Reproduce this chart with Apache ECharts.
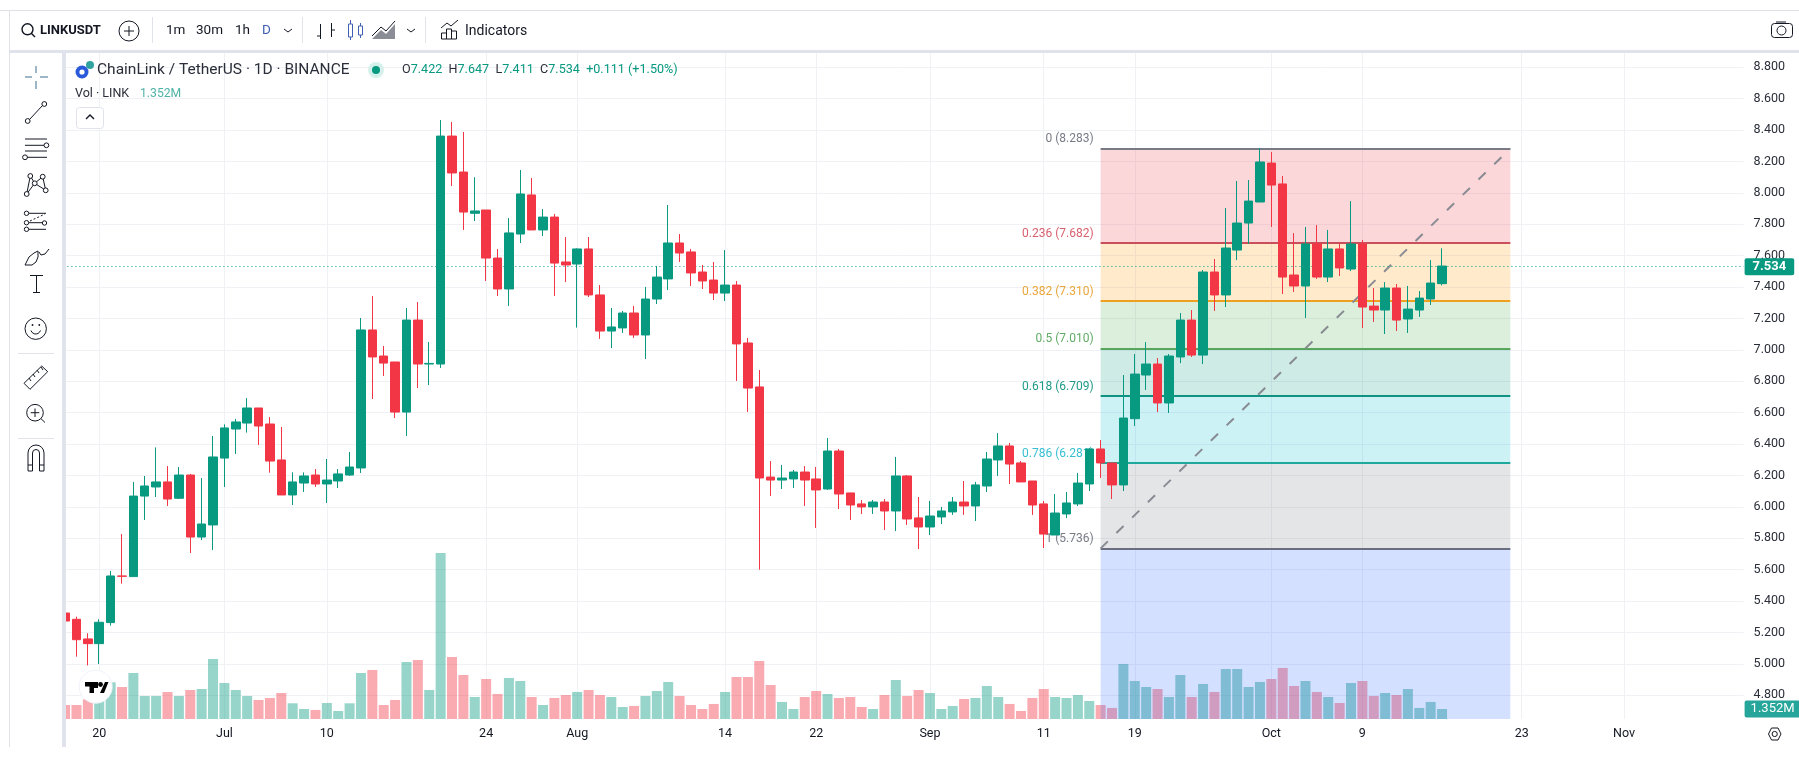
<!DOCTYPE html>
<html><head><meta charset="utf-8">
<style>html,body{margin:0;padding:0;background:#fff;overflow:hidden}#c{width:1799px;height:763px}</style>
<script src="https://cdn.jsdelivr.net/npm/echarts@6/dist/echarts.min.js"></script>
</head><body><div id="c"></div>
<script>
const categories = [
'06-17','06-18','06-19','06-20','06-21','06-22','06-23','06-24','06-25','06-26','06-27','06-28','06-29','06-30',
'07-01','07-02','07-03','07-04','07-05','07-06','07-07','07-08','07-09','07-10','07-11','07-12','07-13','07-14','07-15','07-16','07-17','07-18','07-19','07-20','07-21','07-22','07-23','07-24','07-25','07-26','07-27','07-28','07-29','07-30','07-31',
'08-01','08-02','08-03','08-04','08-05','08-06','08-07','08-08','08-09','08-10','08-11','08-12','08-13','08-14','08-15','08-16','08-17','08-18','08-19','08-20','08-21','08-22','08-23','08-24','08-25','08-26','08-27','08-28','08-29','08-30','08-31',
'09-01','09-02','09-03','09-04','09-05','09-06','09-07','09-08','09-09','09-10','09-11','09-12','09-13','09-14','09-15','09-16','09-17','09-18','09-19','09-20','09-21','09-22','09-23','09-24','09-25','09-26','09-27','09-28','09-29','09-30',
'10-01','10-02','10-03','10-04','10-05','10-06','10-07','10-08','10-09','10-10','10-11','10-12','10-13','10-14','10-15','10-16','10-17','10-18','10-19','10-20','10-21','10-22','10-23','10-24','10-25','10-26','10-27','10-28','10-29','10-30','10-31',
'11-01','11-02','11-03','11-04','11-05','11-06','11-07','11-08','11-09','11-10','11-11'];
const tickDates = ['06-20','07-01','07-10','07-24','08-01','08-14','08-22','09-01','09-11','09-19','10-01','10-09','10-23','11-01'];
const tickLabels = ['20','Jul','10','24','Aug','14','22','Sep','11','19','Oct','9','23','Nov'];
const priceTicks = [4.8,5.0,5.2,5.4,5.6,5.8,6.0,6.2,6.4,6.6,6.8,7.0,7.2,7.4,7.6,7.8,8.0,8.2,8.4,8.6,8.8];

const opens = [5.324,5.284,5.159,5.129,5.263,5.56,5.556,6.069,6.127,6.159,6.055,6.203,5.808,5.885,
6.311,6.496,6.534,6.63,6.528,6.299,6.076,6.152,6.203,6.146,6.165,6.203,6.248,7.127,6.961,6.923,6.604,7.19,6.91,6.91,8.362,8.133,7.87,7.891,7.585,7.388,7.738,7.987,7.764,7.846,7.56,
7.547,7.643,7.35,7.12,7.14,7.235,7.095,7.324,7.452,7.681,7.624,7.496,7.445,7.362,7.413,7.044,6.764,6.19,6.171,6.178,6.222,6.178,6.114,6.356,6.089,6.019,6.0,6.031,5.974,6.197,5.93,
5.872,5.936,5.968,6.031,6.006,6.133,6.299,6.388,6.28,6.165,6.019,5.821,5.955,6.019,6.146,6.369,6.28,6.14,6.562,6.84,6.91,6.662,6.955,7.19,6.967,7.496,7.35,7.636,7.808,7.942,
8.19,8.057,7.477,7.407,7.675,7.464,7.643,7.515,7.675,7.279,7.254,7.394,7.197,7.254,7.324,7.422];
const closes = [5.273,5.154,5.129,5.265,5.56,5.558,6.069,6.133,6.159,6.05,6.203,5.808,5.891,6.318,
6.503,6.541,6.63,6.515,6.292,6.076,6.159,6.197,6.146,6.171,6.21,6.254,7.127,6.955,6.916,6.604,7.19,6.91,6.914,8.362,8.127,7.878,7.885,7.585,7.388,7.745,7.993,7.764,7.846,7.553,7.541,
7.643,7.35,7.12,7.146,7.235,7.095,7.324,7.464,7.681,7.617,7.49,7.439,7.362,7.413,7.038,6.757,6.184,6.171,6.184,6.222,6.171,6.108,6.356,6.082,6.012,6.0,6.031,5.974,6.197,5.923,5.872,
5.942,5.974,6.031,6.006,6.14,6.305,6.388,6.273,6.159,6.012,5.827,5.961,6.025,6.152,6.369,6.28,6.14,6.566,6.846,6.91,6.662,6.961,7.19,6.967,7.496,7.35,7.649,7.808,7.948,8.197,
8.05,7.464,7.407,7.675,7.464,7.643,7.522,7.675,7.273,7.254,7.394,7.19,7.26,7.33,7.426,7.534];
const lows = [5.25,5.046,4.99,4.999,5.244,5.511,5.556,5.917,6.063,6.006,6.05,5.706,5.789,5.725,
6.127,6.337,6.473,6.394,6.218,6.076,6.012,6.095,6.127,6.025,6.12,6.197,6.216,6.687,6.834,6.566,6.452,6.757,6.776,6.885,8.044,7.764,7.821,7.439,7.343,7.28,7.681,7.764,7.725,7.343,7.432,
7.142,7.337,7.07,7.012,7.108,7.076,6.942,7.292,7.381,7.56,7.407,7.388,7.318,7.311,6.802,6.605,5.6,6.069,6.114,6.12,6.006,5.866,6.108,5.987,5.917,5.955,5.955,5.853,5.846,5.885,5.732,
5.821,5.891,5.949,5.949,5.91,6.095,6.197,6.146,6.159,5.949,5.738,5.821,5.929,6.006,6.101,6.184,6.05,6.101,6.515,6.745,6.604,6.598,6.916,6.955,6.91,7.248,7.273,7.572,7.675,7.942,
7.783,7.356,7.369,7.203,7.452,7.432,7.471,7.502,7.139,7.178,7.101,7.12,7.108,7.21,7.286,7.411];
const highs = [5.34,5.301,5.195,5.284,5.592,5.827,6.159,6.197,6.379,6.26,6.254,6.21,6.184,6.452,
6.526,6.56,6.693,6.63,6.572,6.509,6.22,6.22,6.241,6.305,6.241,6.35,7.203,7.343,7.025,6.923,7.267,7.305,7.05,8.464,8.452,8.388,8.1,7.891,7.643,7.84,8.146,8.095,7.897,7.866,7.719,
7.647,7.719,7.413,7.267,7.248,7.28,7.401,7.534,7.923,7.738,7.643,7.541,7.56,7.636,7.439,7.076,6.872,6.292,6.267,6.235,6.26,6.254,6.439,6.369,6.089,6.044,6.044,6.05,6.318,6.203,6.063,
6.038,6.0,6.063,6.165,6.159,6.35,6.47,6.407,6.292,6.165,6.038,6.082,6.095,6.216,6.375,6.426,6.28,6.84,6.974,7.05,6.948,6.974,7.235,7.254,7.509,7.579,7.904,8.076,8.082,8.286,
8.26,8.108,7.744,7.783,7.795,7.764,7.681,7.948,7.7,7.394,7.432,7.42,7.407,7.375,7.572,7.647];
const volumes = [1.89,1.89,2.66,3.02,4.95,4.32,6.21,3.11,3.11,3.65,3.11,3.92,4.05,8.10,
4.86,3.92,3.11,2.57,2.84,3.51,2.12,1.35,1.22,2.16,1.08,2.12,6.21,6.62,1.89,2.57,7.70,7.97,3.92,22.41,8.37,5.94,2.97,5.40,3.38,5.54,5.13,2.97,1.89,2.84,3.24,
3.65,3.92,3.24,2.97,1.62,1.76,3.11,3.78,5.00,3.11,1.89,1.35,2.03,3.65,5.67,5.67,7.83,4.59,2.30,1.35,2.97,3.78,3.38,2.84,2.97,1.62,1.35,3.24,5.27,3.11,3.92,
3.51,1.35,1.76,2.70,2.84,4.46,2.97,2.03,1.08,2.84,4.05,2.97,2.84,3.24,2.43,1.89,1.49,7.43,5.13,4.32,4.05,2.97,5.94,2.97,4.73,3.65,6.75,6.75,4.32,5.00,
5.40,6.89,4.46,5.13,3.65,2.97,2.16,4.86,5.13,3.11,3.51,3.24,4.05,1.49,2.30,1.352];

const fibStart = '09-16', fibEnd = '10-22';
const fibLevels = ['0','0.236','0.382','0.5','0.618','0.786','1'];
const fibPrices = [8.283,7.682,7.310,7.010,6.709,6.281,5.736];
const fibLabelColors = ['#787b86','#d8606e','#eaa63c','#62ab66','#1f9a86','#36bfd2','#787b86'];
const fibLineColors = ['#787b86','#c94f5b','#f0a021','#58a55c','#0f9281','#20a89c','#6a6e80'];
const fibFills = ['rgba(242,54,69,.2)','rgba(255,152,0,.2)','rgba(76,175,80,.2)','rgba(8,153,129,.2)','rgba(0,188,212,.2)','rgba(120,123,134,.2)','rgba(41,98,255,.2)'];
const lastPrice = 7.534, lastVolumeLabel = '1.352M', yBottom = 4.649, yTop = 8.9102;

const UP = '#089981', DOWN = '#f23645', INK = '#131722';
const candleData = categories.slice(0, opens.length).map((_, i) => [opens[i], closes[i], lows[i], highs[i]]);
const fibAreas = fibFills.map((c, i) => [
  {coord: [fibStart, fibPrices[i]], itemStyle: {color: c}},
  {coord: [fibEnd, i < fibPrices.length - 1 ? fibPrices[i + 1] : yBottom]}
]);
const fibLines = fibPrices.map((p, i) => {
  const label = {show: true, position: 'start', distance: 7, verticalAlign: 'bottom', padding: [0, 0, 3, 0], color: fibLabelColors[i],
    fontFamily: 'Roboto', fontSize: 12, formatter: fibLevels[i] + ' (' + p.toFixed(3) + ')'};
  const ls = {color: fibLineColors[i], width: 2, type: 'solid', opacity: 1};
  return [{coord: [fibStart, p], label, lineStyle: ls}, {coord: [fibEnd, p]}];
});
const trend = [{coord: [fibStart, fibPrices[6]], lineStyle: {color: '#888b92', width: 2, type: [10, 12]}, label: {show: false}}, {coord: [fibEnd, fibPrices[0]]}];
const priceLine = [{yAxis: lastPrice, lineStyle: {color: UP, width: 1, type: [1, 3]},
  label: {show: true, position: 'end', distance: 1, formatter: lastPrice.toFixed(3), color: '#fff', fontFamily: 'Roboto', fontWeight: 'bold', fontSize: 13,
    backgroundColor: UP, padding: [2, 8, 2, 8], borderRadius: 2}}];

/* page chrome, drawn on top of the plot edges */
const gfx = [];
const Z = 1000, S = INK;
const add = (o) => { o.z = Z; o.silent = true; gfx.push(o); };
const R = (x, y, w, h, fill, stroke, r) => add({type: 'rect', shape: {x, y, width: w, height: h, r: r || 0}, style: {fill: fill || 'none', stroke: stroke || 'none', lineWidth: 1}});
const L = (x1, y1, x2, y2, c, w, d) => add({type: 'line', shape: {x1, y1, x2, y2}, style: {stroke: c || S, lineWidth: w || 1, lineDash: d}});
const C = (cx, cy, r, fill, stroke, w) => add({type: 'circle', shape: {cx, cy, r}, style: {fill: fill || 'none', stroke: stroke || (fill ? 'none' : S), lineWidth: w || 1}});
const PL = (pts, c, w) => add({type: 'polyline', shape: {points: pts}, style: {stroke: c || S, lineWidth: w || 1, fill: 'none'}});
const PG = (pts, fill, stroke) => add({type: 'polygon', shape: {points: pts}, style: {fill: fill || 'none', stroke: stroke || 'none', lineWidth: 1}});
const T = (x, y, text, o) => add({type: 'text', x, y, style: Object.assign({text, fill: INK, font: '13px Roboto', textVerticalAlign: 'middle', verticalAlign: 'middle'}, o || {})});

R(0, 0, 1799, 50, '#fff');
R(0, 0, 62, 763, '#fff');
R(0, 747, 1799, 16, '#fff');
R(10, 50, 1789, 3, '#e0e3eb');
R(62, 50, 4, 697, '#e0e3eb');
L(0, 10.5, 1799, 10.5, '#dfe1e6');
L(9.5, 10, 9.5, 747, '#dfe1e6');

// header
C(27.5, 29.3, 5.5, null, S, 1.4); L(31.5, 33.5, 35, 37, S, 1.4);
T(40, 31, 'LINKUSDT', {font: 'bold 13px Roboto'});
C(129, 31, 10); L(124, 31, 134, 31); L(129, 26, 129, 36);
L(152.5, 17, 152.5, 43, '#e0e3eb');
T(166, 31, '1m', {font: '13.5px Roboto'});
T(196, 31, '30m', {font: '13.5px Roboto'});
T(235, 31, '1h', {font: '13.5px Roboto'});
T(262, 31, 'D', {font: '13.5px Roboto', fill: '#3f5fb5'});
PL([[284, 29], [288, 32], [292, 29]]);
L(302.5, 17, 302.5, 43, '#e0e3eb');
L(320.5, 24, 320.5, 39); L(317, 36, 320.5, 36); L(331.5, 23, 331.5, 37); L(331.5, 30, 335, 30);
L(350.5, 20, 350.5, 40, '#3f5fb5'); R(348.5, 24, 4, 13, '#fff', '#3f5fb5'); L(360.5, 23, 360.5, 38, '#3f5fb5'); R(358.5, 26, 4, 9, '#fff', '#3f5fb5');
PG([[372, 39], [381, 30], [386, 34], [395, 24], [395, 39]], '#8a8d96'); PL([[372, 36], [381, 27], [386, 31], [395, 21]]);
PL([[407, 29], [411, 32], [415, 29]]);
L(425.5, 17, 425.5, 43, '#e0e3eb');
R(441.5, 33, 5, 6, null, S); R(446.5, 29, 5, 10, null, S); R(451.5, 31, 5, 8, null, S); PL([[441, 28], [447, 23], [451, 26], [458, 20]]);
T(465, 31, 'Indicators', {font: '14px Roboto'});
R(1771.5, 23.5, 21, 14, null, S, 3); L(1776, 22, 1786, 22); C(1781.5, 30.5, 4.5);

// legend
C(90, 65, 4, '#2fa3a0'); C(82, 72, 6.5, '#2a5ada'); C(82, 72, 2.6, '#fff');
T(97, 70, 'ChainLink / TetherUS · 1D · BINANCE', {font: '15.5px Roboto', fill: '#2a2e39'});
C(376, 70, 8, '#d6f0ec'); C(376, 70, 4, UP);
add({type: 'text', x: 402, y: 70, style: {font: '12.6px Roboto', verticalAlign: 'middle',
  text: '{k|O}{v|7.422}  {k|H}{v|7.647}  {k|L}{v|7.411}  {k|C}{v|7.534}  {v|+0.111 (+1.50%)}',
  rich: {k: {fill: '#2a2e39', font: '12.6px Roboto'}, v: {fill: UP, font: '12.6px Roboto'}}}});
T(75, 94, 'Vol · LINK', {font: '12.5px Roboto', fill: '#2a2e39'});
T(140, 94, '1.352M', {font: '12.2px Roboto', fill: '#4fb3a6'});
R(76.5, 107.5, 27, 21, '#fff', '#e0e3eb', 3); PL([[86, 119], [90, 115], [94, 119]], S, 1.4);

// TradingView badge
C(95.7, 686.7, 16.5, '#fff', '#f0f3fa');
PG([[85, 682], [98, 682], [98, 688], [94, 688], [94, 693], [89.5, 693], [89.5, 686.5], [85, 686.5]], '#000');
C(100.5, 684.5, 2.4, '#000');
PG([[100, 693], [105, 682], [108.5, 682], [104, 693]], '#000');

// settings hexagon
PG([[1768.5, 734], [1771.5, 728], [1778, 728], [1781, 734], [1778, 740], [1771.5, 740]], null, S); C(1774.7, 734, 2.6);

// drawing toolbar
const b = '#3d6f8e';
L(25, 77, 32, 77, b); L(40, 77, 48, 77, b); L(36, 66, 36, 73, b); L(36, 81, 36, 89, b);
L(29.5, 119.5, 42.5, 105.5); C(27.7, 121, 2.4); C(44.3, 104, 2.4);
L(25, 139, 47, 139); L(25, 145.3, 44, 145.3); L(25, 151, 47, 151); L(27, 157.3, 47, 157.3); C(46.4, 145.3, 2.4); C(25, 157.3, 2.4);
const pn = [[30.3, 176], [42.7, 176.7], [34.7, 183.3], [26.7, 194], [45.7, 190.3]];
PL([pn[3], pn[0], pn[2], pn[1], pn[4], pn[2], pn[3]]); pn.forEach(p => C(p[0], p[1], 2.4, '#fff', S));
L(29, 213.3, 46, 213.3); L(29, 222.7, 42, 222.7); L(29, 229.3, 46, 229.3); L(30, 221, 45, 214, S, 1, [2, 2]);
C(26.5, 213.3, 2.2); C(26.5, 222.7, 2.2); C(26.5, 229.3, 2.2); C(44.5, 223, 2.2);
PL([[25, 265], [29, 257], [34, 253], [38, 251], [38, 257], [36, 262], [32, 265], [25, 265]]);
PL([[39, 252], [41, 255], [45, 254], [49, 249]]);
L(30, 275.5, 43, 275.5); L(36.5, 275.5, 36.5, 292.5); L(33, 292.5, 40, 292.5);
C(35.7, 328.7, 10.7); C(32.5, 325, .9, S); C(39.3, 325, .9, S);
add({type: 'arc', shape: {cx: 35.7, cy: 329, r: 5, startAngle: 0.3, endAngle: Math.PI - 0.3}, style: {stroke: S, lineWidth: 1, fill: 'none'}});
L(18, 353.5, 54, 353.5, '#e0e3eb');
PG([[24, 383.3], [41.7, 366], [47.7, 371.7], [30, 389.3]], null, S);
L(29, 378, 31, 381); L(33, 374, 35, 377); L(37, 370, 39, 373); L(41, 367, 43, 370);
C(35, 412.7, 8.3); L(35, 408.5, 35, 417); L(30.7, 412.7, 39.3, 412.7); L(41, 418.7, 45, 422.5);
L(18, 438.5, 54, 438.5, '#e0e3eb');
add({type: 'arc', shape: {cx: 36, cy: 453, r: 8, startAngle: Math.PI, endAngle: 0}, style: {stroke: S, lineWidth: 1, fill: 'none'}});
add({type: 'arc', shape: {cx: 36, cy: 453, r: 3.5, startAngle: Math.PI, endAngle: 0}, style: {stroke: S, lineWidth: 1, fill: 'none'}});
PL([[28, 453], [28, 471], [32.5, 471], [32.5, 453]]); PL([[39.5, 453], [39.5, 471], [44, 471], [44, 453]]);
L(28, 465, 32.5, 465); L(39.5, 465, 44, 465);

const chart = echarts.init(document.getElementById('c'), null, {renderer: 'canvas', width: 1799, height: 763});
chart.setOption({
  animation: false,
  backgroundColor: '#fff',
  textStyle: {fontFamily: 'Roboto'},
  grid: [
    {left: 59.4, top: 50, width: 1684.2, height: 669},
    {left: 59.4, top: 496.8, width: 1684.2, height: 222.2}
  ],
  xAxis: [
    {type: 'category', gridIndex: 0, data: categories, boundaryGap: true,
      axisLine: {show: false}, axisTick: {show: false},
      axisLabel: {color: INK, fontFamily: 'Roboto', fontSize: 12.5, margin: 8,
        interval: (i, v) => tickDates.includes(v),
        formatter: v => tickLabels[tickDates.indexOf(v)] || ''},
      splitLine: {show: true, alignWithLabel: true, interval: (i, v) => tickDates.includes(v), lineStyle: {color: '#eff1f5', width: 1}}},
    {type: 'category', gridIndex: 1, data: categories, show: false}
  ],
  yAxis: [
    {type: 'value', gridIndex: 0, position: 'right', min: yBottom, max: yTop, scale: true,
      axisLine: {show: false},
      axisTick: {show: false, customValues: priceTicks},
      axisLabel: {color: '#2a2e39', fontFamily: 'Roboto', fontSize: 12.5, margin: 10, customValues: priceTicks, formatter: v => v.toFixed(3)},
      splitLine: {show: true, lineStyle: {color: '#eff1f5', width: 1}}},
    {type: 'value', gridIndex: 1, position: 'right', min: 0, max: 30, show: false}
  ],
  series: [
    {type: 'bar', name: 'Vol', xAxisIndex: 1, yAxisIndex: 1, z: 0, barWidth: 10, data: volumes,
      itemStyle: {color: p => closes[p.dataIndex] >= opens[p.dataIndex] ? 'rgba(8,153,129,.42)' : 'rgba(242,54,69,.42)'},
      markLine: {silent: true, symbol: 'none', z: 6, animation: false,
        data: [{yAxis: volumes[volumes.length - 1], lineStyle: {color: 'rgba(0,0,0,0)', width: 0},
          label: {show: true, position: 'end', distance: 1, formatter: lastVolumeLabel, color: '#fff', fontFamily: 'Roboto', fontSize: 13,
            backgroundColor: '#26a69a', padding: [2, 6, 2, 6], borderRadius: 2}}]}},
    {type: 'line', name: 'Fib', xAxisIndex: 0, yAxisIndex: 0, data: [], z: 1, symbol: 'none',
      markArea: {silent: true, z: 1, animation: false, data: fibAreas},
      markLine: {silent: true, symbol: 'none', z: 5, animation: false, data: fibLines.concat([trend]).concat(priceLine)}},
    {type: 'candlestick', name: 'LINKUSDT', xAxisIndex: 0, yAxisIndex: 0, z: 10, barWidth: 9, data: candleData,
      itemStyle: {color: UP, color0: DOWN, borderColor: UP, borderColor0: DOWN, borderColorDoji: UP, borderWidth: 1}}
  ],
  graphic: {elements: gfx}
});
</script></body></html>
